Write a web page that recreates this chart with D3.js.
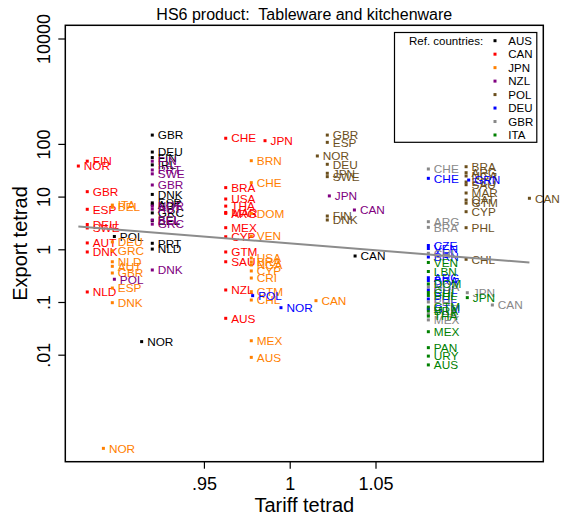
<!DOCTYPE html>
<html>
<head>
<meta charset="utf-8">
<script src="https://cdn.jsdelivr.net/npm/d3@7/dist/d3.min.js"></script>
<style>
  html, body { margin: 0; padding: 0; background: #fff; }
  svg { display: block; font-family: "Liberation Sans", Arial, Helvetica, sans-serif; }
</style>
</head>
<body>
<svg id="chart" width="566" height="519"></svg>
<script>
// Reference countries (legend order) and their colours
const refCountries = ["AUS", "CAN", "JPN", "NZL", "POL", "DEU", "GBR", "ITA"];
const refColors = ["#000000", "#ff0000", "#ff8000", "#800080", "#6b4f1d", "#0000ff", "#888888", "#008000"];

// Reference AUS
const ausLabels = ["GBR", "DEU", "FIN", "IRL", "DNK", "ESP", "AUT", "GRC", "BEL", "POL", "PRT", "NLD", "NOR", "CAN"];
const ausTariff = [0.9199, 0.9199, 0.9199, 0.9199, 0.9199, 0.9199, 0.9199, 0.9199, 0.9199, 0.8978, 0.9199, 0.9199, 0.9137, 1.0381];
const ausExport = [147, 70, 55, 40, 11, 7.6, 7.0, 4.9, 3.5, 1.75, 1.3, 1.01, 0.0177, 0.746];

// Reference CAN
const canLabels = ["NOR", "FIN", "GBR", "ESP", "DEU", "SWE", "AUT", "DNK", "NLD", "CHE", "BRA", "USA", "THA", "MAR", "ARG", "MEX", "CYP", "GTM", "SAU", "NZL", "AUS", "JPN"];
const canTariff = [0.8768, 0.8820, 0.8820, 0.8820, 0.8820, 0.8820, 0.8820, 0.8820, 0.8820, 0.9627, 0.9627, 0.9627, 0.9627, 0.9627, 0.9627, 0.9627, 0.9627, 0.9627, 0.9627, 0.9627, 0.9627, 0.9856];
const canExport = [38, 47, 12.4, 5.74, 2.95, 2.54, 1.32, 0.89, 0.155, 128, 14.8, 9.0, 6.6, 5.0, 4.8, 2.57, 1.73, 0.89, 0.58, 0.169, 0.049, 115];

// Reference JPN
const jpnLabels = ["NOR", "ITA", "BEL", "DEU", "GRC", "NLD", "AUT", "GBR", "ESP", "DNK", "BRN", "CHE", "DOM", "VEN", "USA", "BRA", "NGA", "CYP", "CRI", "GTM", "CHL", "MEX", "AUS", "CAN"];
const jpnTariff = [0.8914, 0.8966, 0.8966, 0.8966, 0.8966, 0.8966, 0.8966, 0.8966, 0.8966, 0.8966, 0.9776, 0.9776, 0.9776, 0.9776, 0.9776, 0.9776, 0.9776, 0.9776, 0.9776, 0.9776, 0.9776, 0.9776, 0.9776, 1.0153];
const jpnExport = [0.000167, 6.9, 6.3, 1.38, 0.94, 0.58, 0.475, 0.355, 0.184, 0.097, 48, 18.4, 4.8, 1.78, 0.684, 0.574, 0.504, 0.388, 0.285, 0.157, 0.109, 0.0184, 0.0089, 0.106];

// Reference NZL
const nzlLabels = ["FIN", "PRT", "SWE", "GBR", "NOR", "AUT", "BEL", "GRC", "POL", "DNK", "JPN", "CAN"];
const nzlTariff = [0.9199, 0.9199, 0.9199, 0.9199, 0.9199, 0.9199, 0.9199, 0.9199, 0.8978, 0.9199, 1.0231, 1.0377];
const nzlExport = [47, 32, 27, 16.6, 6.6, 5.8, 3.6, 3.0, 0.27, 0.405, 10.3, 5.57];

// Reference POL
const polLabels = ["GBR", "ESP", "NOR", "DEU", "JPN", "SWE", "FIN", "DNK", "BRA", "ARG", "NGA", "ECU", "SAU", "MAR", "QAT", "GTM", "CYP", "PHL", "CHL", "CAN"];
const polTariff = [1.0219, 1.0219, 1.0161, 1.0219, 1.0219, 1.0219, 1.0219, 1.0219, 1.1028, 1.1028, 1.1028, 1.1028, 1.1028, 1.1028, 1.1028, 1.1028, 1.1028, 1.1028, 1.1028, 1.1397];
const polExport = [147, 107, 59, 41, 27.7, 23.9, 4.28, 3.6, 36.9, 28.4, 24.6, 18.9, 16.8, 11.7, 8.6, 7.5, 5.17, 2.57, 0.646, 9.29];

// Reference DEU
const deuLabels = ["POL", "NOR", "CHE", "GRN", "CZE", "VEN", "BRN", "ARG", "BRA", "CHL", "PHL", "GTM"];
const deuTariff = [0.9784, 0.9949, 1.0808, 1.1043, 1.0808, 1.0808, 1.0808, 1.0808, 1.0808, 1.0808, 1.0808, 1.0808];
const deuExport = [0.132, 0.078, 22.2, 20.6, 1.18, 1.035, 0.714, 0.289, 0.256, 0.169, 0.114, 0.074];

// Reference GBR
const gbrLabels = ["CHE", "ARG", "BRA", "CHL", "NGA", "PHL", "THA", "MEX", "JPN", "CAN"];
const gbrTariff = [1.0808, 1.0808, 1.0808, 1.0808, 1.0808, 1.0808, 1.0808, 1.0808, 1.1035, 1.1181];
const gbrExport = [33.4, 3.34, 2.61, 0.84, 0.193, 0.1, 0.059, 0.0457, 0.150, 0.0877];

// Reference ITA
const itaLabels = ["VEN", "LBN", "DOM", "CHL", "PHL", "GTM", "BRA", "THA", "MEX", "PAN", "URY", "AUS", "JPN"];
const itaTariff = [1.0808, 1.0808, 1.0808, 1.0808, 1.0808, 1.0808, 1.0808, 1.0808, 1.0808, 1.0808, 1.0808, 1.0808, 1.1035];
const itaExport = [0.562, 0.379, 0.22, 0.151, 0.133, 0.080, 0.0675, 0.054, 0.0273, 0.0136, 0.0094, 0.0064, 0.121];

// Fitted line: log10(export) = fitIntercept + fitSlope * tariff
const fitIntercept = 2.723;
const fitSlope = -2.61;

// Axis ticks
const xTickValues = [0.95, 1, 1.05];
const xTickLabels = [".95", "1", "1.05"];
const yTickValues = [0.01, 0.1, 1, 10, 100, 10000];
const yTickLabels = [".01", ".1", "1", "10", "100", "10000"];

const seriesLabels = [ausLabels, canLabels, jpnLabels, nzlLabels, polLabels, deuLabels, gbrLabels, itaLabels];
const seriesTariff = [ausTariff, canTariff, jpnTariff, nzlTariff, polTariff, deuTariff, gbrTariff, itaTariff];
const seriesExport = [ausExport, canExport, jpnExport, nzlExport, polExport, deuExport, gbrExport, itaExport];

const svg = d3.select("#chart");
const plot = { left: 65.3, right: 543.3, top: 25.3, bottom: 461.7 };

const x = d3.scaleLinear().domain([0.8692, 1.1478]).range([plot.left, plot.right]);
const y = d3.scaleLog().domain([9.32e-5, 17800]).range([plot.bottom, plot.top]);

// Title
svg.append("text")
  .attr("x", (plot.left + plot.right) / 2).attr("y", 19.5)
  .attr("text-anchor", "middle").attr("font-size", 16)
  .style("white-space", "pre")
  .text("HS6 product:  Tableware and kitchenware");

// Y axis
const yAxis = d3.axisLeft(y).tickValues(yTickValues)
  .tickFormat((d, i) => yTickLabels[i]).tickSize(7).tickSizeOuter(0);
const gy = svg.append("g").attr("transform", `translate(${plot.left},0)`).call(yAxis);
gy.select(".domain").remove();
gy.selectAll(".tick line").attr("stroke", "#000").attr("stroke-width", 1.2);
gy.selectAll(".tick text")
  .attr("transform", "rotate(-90)")
  .attr("x", 0).attr("y", -15).attr("dy", 0)
  .attr("text-anchor", "middle")
  .attr("font-size", 18).attr("fill", "#000")
  .attr("font-family", "'Liberation Sans', Arial, sans-serif");

// X axis
const xAxis = d3.axisBottom(x).tickValues(xTickValues)
  .tickFormat((d, i) => xTickLabels[i]).tickSize(7).tickSizeOuter(0);
const gx = svg.append("g").attr("transform", `translate(0,${plot.bottom})`).call(xAxis);
gx.select(".domain").remove();
gx.selectAll(".tick line").attr("stroke", "#000").attr("stroke-width", 1.2);
gx.selectAll(".tick text")
  .attr("y", 28).attr("dy", 0)
  .attr("font-size", 18).attr("fill", "#000")
  .attr("font-family", "'Liberation Sans', Arial, sans-serif");

// Axis titles
svg.append("text")
  .attr("x", (plot.left + plot.right) / 2).attr("y", 512)
  .attr("text-anchor", "middle").attr("font-size", 20)
  .text("Tariff tetrad");
svg.append("text")
  .attr("transform", `translate(27,${(plot.top + plot.bottom) / 2}) rotate(-90)`)
  .attr("text-anchor", "middle").attr("font-size", 20)
  .text("Export tetrad");

// Points with country labels, one group per reference country
const markerSize = 3;
refCountries.forEach((ref, s) => {
  const rows = seriesLabels[s].map((lab, i) => ({ lab, tx: seriesTariff[s][i], ex: seriesExport[s][i] }));
  const g = svg.append("g").attr("class", "series-" + ref);
  g.selectAll("rect").data(rows).join("rect")
    .attr("x", d => x(d.tx) - markerSize / 2)
    .attr("y", d => y(d.ex) - markerSize / 2)
    .attr("width", markerSize).attr("height", markerSize)
    .attr("fill", refColors[s]);
  g.selectAll("text").data(rows).join("text")
    .attr("x", d => x(d.tx) + 5.5)
    .attr("y", d => y(d.ex))
    .attr("dy", "0.36em")
    .attr("font-size", 11.8)
    .attr("fill", refColors[s])
    .text(d => d.lab);
});

// Fitted line across the tariff range of the data
const allTariff = seriesTariff.flat();
const [tMin, tMax] = d3.extent(allTariff);
const fitPts = [tMin, tMax].map(t => [x(t), y(Math.pow(10, fitIntercept + fitSlope * t))]);
svg.append("path")
  .attr("d", d3.line()(fitPts))
  .attr("stroke", "#8c8c8c").attr("stroke-width", 2).attr("fill", "none");

// Plot frame
svg.append("rect")
  .attr("x", plot.left).attr("y", plot.top)
  .attr("width", plot.right - plot.left).attr("height", plot.bottom - plot.top)
  .attr("fill", "none").attr("stroke", "#000").attr("stroke-width", 1.5);

// Legend
const lg = svg.append("g");
lg.append("rect")
  .attr("x", 394.5).attr("y", 32.5).attr("width", 142.3).attr("height", 109.8)
  .attr("fill", "#fff").attr("stroke", "#000").attr("stroke-width", 1.2);
lg.append("text")
  .attr("x", 409).attr("y", 40.7).attr("dy", "0.36em")
  .attr("font-size", 11.5).text("Ref. countries:");
refCountries.forEach((ref, i) => {
  const cy = 40.7 + i * 13.47;
  lg.append("rect")
    .attr("x", 495 - markerSize / 2).attr("y", cy - markerSize / 2)
    .attr("width", markerSize).attr("height", markerSize)
    .attr("fill", refColors[i]);
  lg.append("text")
    .attr("x", 508.3).attr("y", cy).attr("dy", "0.36em")
    .attr("font-size", 11.5).text(ref);
});
</script>
</body>
</html>
